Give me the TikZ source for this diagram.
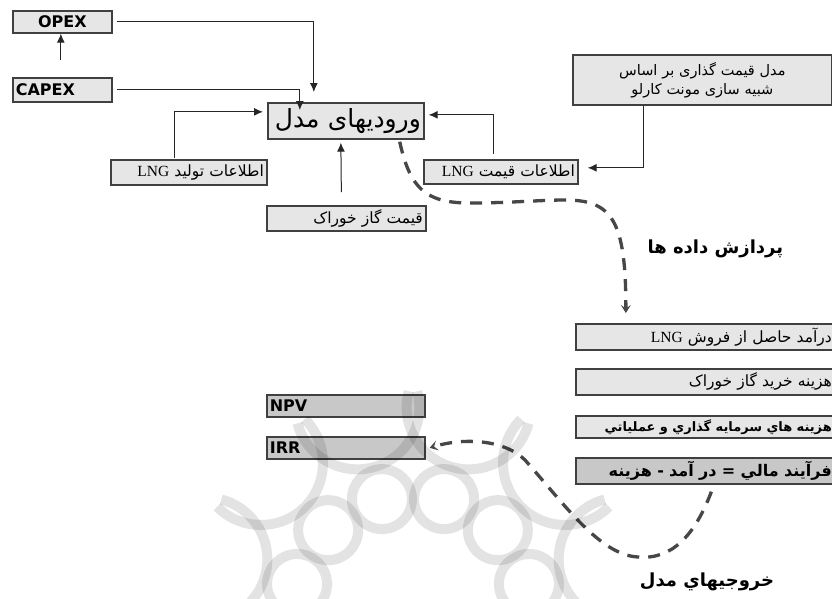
\documentclass[tikz,border=0pt]{standalone}
\usepackage{fontspec}
\setmainfont{DejaVu Sans}
\newfontfamily\arfont[Script=Arabic]{DejaVu Sans}
\newfontfamily\lngfont{Liberation Serif}
\TeXXeTstate=1
\usetikzlibrary{arrows.meta}
\newcommand{\artext}[1]{{\arfont\beginR #1\endR}}
\newcommand{\lngword}{\beginL{\lngfont LNG}\endL}
\definecolor{boxfill}{HTML}{E6E6E6}
\definecolor{boxdark}{HTML}{C8C8C8}
\definecolor{edge}{HTML}{404040}
\begin{document}
\begin{tikzpicture}[x=1pt,y=-1pt,
 box/.style={draw=edge, line width=1.7pt, fill=boxfill, anchor=north west, inner xsep=3pt, inner ysep=0pt, font=\fontsize{15.5}{17}\selectfont},
 rbox/.style={box, inner xsep=5pt, text width=251pt, align=right},
 latin/.style={font=\bfseries\fontsize{16}{18}\selectfont},
 arr/.style={draw=black!85, line width=1pt, -{Latex[length=9pt,width=8pt]}},
 darr/.style={draw=black!72, line width=3.3pt, dash pattern=on 12pt off 9pt, -{Stealth[length=8pt,width=10pt,inset=3.5pt]}},
 wm/.style={draw=black, opacity=0.11, line width=10pt},
 lbl/.style={font=\bfseries\fontsize{18}{20}\selectfont}]
\clip (0,0) rectangle (832,598);
\fill[white] (0,0) rectangle (832,598);

% boxes
\node[box, latin, text width=93pt, minimum height=22pt, align=center] (opex) at (12,10) {OPEX};
\node[box, latin, text width=93pt, minimum height=24pt, align=left] (capex) at (12,77) {CAPEX};
\node[box, text width=150pt, minimum height=36pt, align=right, font=\fontsize{25}{26}\selectfont] (inputs) at (267,102) {\artext{ورودیهای مدل}};
\node[box, text width=150pt, minimum height=25pt, align=right] (prod) at (110,159) {\artext{اطلاعات تولید \lngword}};
\node[box, text width=153pt, minimum height=25pt, align=right] (feed) at (266,205) {\artext{قیمت گاز خوراک}};
\node[box, text width=148pt, minimum height=24pt, align=right] (price) at (423,159) {\artext{اطلاعات قیمت \lngword}};
\node[box, text width=253pt, minimum height=50pt, align=center, font=\fontsize{14.5}{16}\selectfont] (monte) at (572,54) {\artext{مدل قیمت گذاری بر اساس}\\[3pt]\artext{شبیه سازی مونت کارلو}};

\node[rbox, minimum height=26pt] (r1) at (575,323) {\artext{درآمد حاصل از فروش \lngword}};
\node[rbox, minimum height=26pt] (r2) at (575,368) {\artext{هزینه خرید گاز خوراک}};
\node[rbox, minimum height=22pt, font=\bfseries\fontsize{13}{15}\selectfont] (r3) at (575,415) {\artext{هزینه هاي سرمایه گذاري و عملیاتي}};
\node[rbox, minimum height=26pt, fill=boxdark, font=\bfseries\fontsize{16}{18}\selectfont] (r4) at (575,457) {\artext{فرآیند مالي = در آمد - هزینه}};

\node[box, latin, text width=152pt, minimum height=22pt, align=left, fill=boxdark] (npv) at (266,394) {NPV};
\node[box, latin, text width=152pt, minimum height=22pt, align=left, fill=boxdark] (irr) at (266,436) {IRR};

% labels
\node[lbl, anchor=west] (proc) at (644,249) {\artext{پردازش داده ها}};
\node[lbl] (outl) at (707,582) {\artext{خروجیهاي مدل}};

% solid connectors
\draw[arr] ([xshift=-1.5pt,yshift=17pt]capex.north) -- ([xshift=-1.5pt]opex.south);
\draw[arr] ([xshift=4pt]opex.east) -| ([xshift=-32pt,yshift=10pt]inputs.north);
\draw[arr] ([xshift=4pt]capex.east) -| ([xshift=-46pt,yshift=-8pt]inputs.north);
\draw[arr] ([xshift=-14pt,yshift=1pt]prod.north) |- ([xshift=-4pt,yshift=9pt]inputs.west);
\draw[arr] ([xshift=-5pt,yshift=13pt]feed.north) -- ([xshift=-5pt,yshift=-3pt]inputs.south);
\draw[arr] ([xshift=-7pt,yshift=5pt]price.north) |- ([xshift=4pt,yshift=6pt]inputs.east);
\draw[arr] ([xshift=-58.5pt]monte.south) |- ([xshift=9pt,yshift=4pt]price.east);

% dashed connectors
\draw[darr] ([xshift=-25pt,yshift=-2pt]inputs.south east) .. controls (410,188) and (425,203) .. (470,203)
  .. controls (510,203) and (540,200) .. (565,200) .. controls (612,200) and (626,220) .. ([xshift=-80.5pt,yshift=10pt]r1.north);
\draw[darr] ([xshift=5pt,yshift=-7pt]r4.south) .. controls (695,535) and (672,560) .. (638,557)
  .. controls (600,555) and (565,505) .. (525,460) .. controls (505,440) and (465,437) .. ([xshift=4pt]irr.east);

% watermark
\begin{scope}[shift={(413,615)}, x=1pt, y=1pt]
  \foreach \a in {15,45,...,165} \draw[wm] (\a:120) circle (30);
  \foreach \a in {15,45,...,165} \draw[wm] ([shift={(\a:215)}]\a+90:62) arc[start angle=\a+90, delta angle=180, radius=62];
\end{scope}
\end{tikzpicture}
\end{document}
